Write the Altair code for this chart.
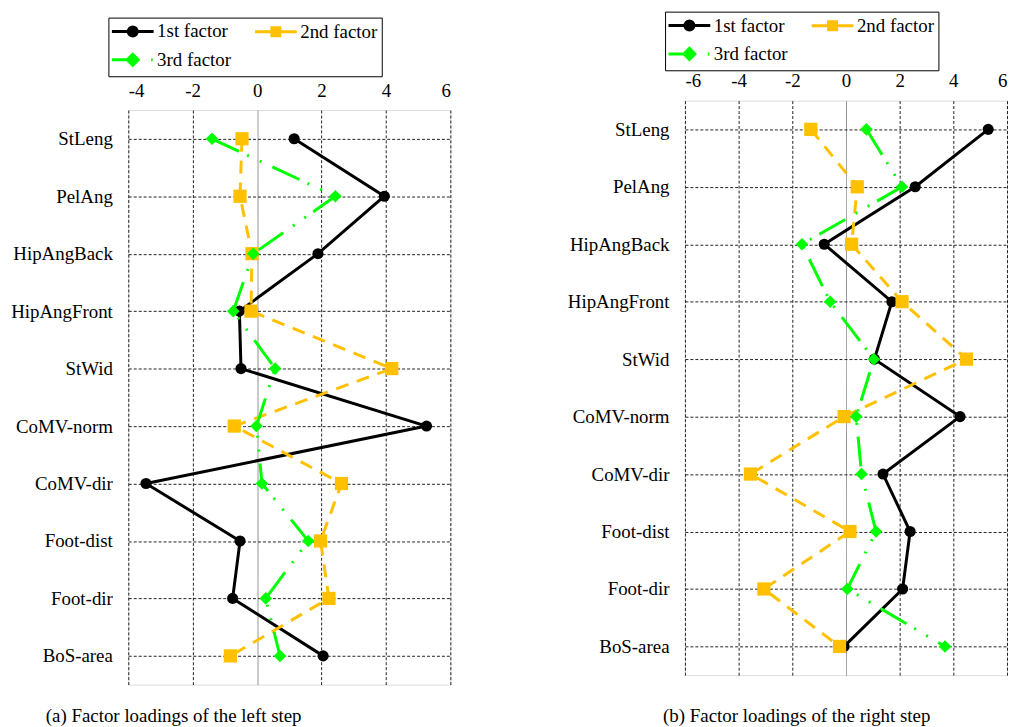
import altair as alt
import pandas as pd

FONT = "Liberation Serif"

categories = ["StLeng", "PelAng", "HipAngBack", "HipAngFront", "StWid",
              "CoMV-norm", "CoMV-dir", "Foot-dist", "Foot-dir", "BoS-area"]
series_names = ["1st factor", "2nd factor", "3rd factor"]
colors = ["#000000", "#FFC000", "#00FF00"]

left_f1 = [1.15, 3.95, 1.89, -0.55, -0.50, 5.26, -3.45, -0.53, -0.76, 2.05]
left_f2 = [-0.47, -0.53, -0.16, -0.19, 4.18, -0.71, 2.62, 1.97, 2.23, -0.83]
left_f3 = [-1.40, 2.43, -0.12, -0.74, 0.56, -0.02, 0.15, 1.59, 0.27, 0.71]

right_f1 = [5.30, 2.58, -0.81, 1.71, 1.06, 4.25, 1.38, 2.39, 2.11, -0.07]
right_f2 = [-1.31, 0.42, 0.21, 2.09, 4.49, -0.07, -3.56, 0.15, -3.06, -0.24]
right_f3 = [0.76, 2.09, -1.64, -0.59, 1.04, 0.38, 0.58, 1.12, 0.05, 3.69]

left_ticks = [-4, -2, 0, 2, 4, 6]
right_ticks = [-6, -4, -2, 0, 2, 4, 6]

captions = ["(a) Factor loadings of the left step", "(b) Factor loadings of the right step"]

dashes = [None, [13, 9], [30, 9, 2, 12, 2, 12]]
shapes = ["circle", "square", "diamond"]
sizes = [125, 177, 161]

legend_paths = [
    "M-1.25,0L4,0M1.94,0A0.56,0.56,0,1,1,0.81,0A0.56,0.56,0,1,1,1.94,0Z",
    "M-1.25,0L4,0M0.875,-0.5L1.875,-0.5L1.875,0.5L0.875,0.5Z",
    "M-1.25,0L1.375,0M1.375,-0.69L2.06,0L1.375,0.69L0.69,0ZM3.69,0L3.875,0",
]


def make_df(vals_list):
    rows = []
    for name, vals in zip(series_names, vals_list):
        for i, (cat, v) in enumerate(zip(categories, vals)):
            rows.append({"factor": name, "variable": cat, "order": i, "loading": v})
    return pd.DataFrame(rows)


def panel(vals_list, ticks, caption, legend_y, caption_dx, caption_offset):
    df = make_df(vals_list)
    base = alt.Chart(df)
    x = alt.X(
        "loading:Q",
        scale=alt.Scale(domain=[ticks[0], ticks[-1]], nice=False, zero=False),
        axis=alt.Axis(
            orient="top", values=ticks, title=None, ticks=False, domain=False,
            labelExpr="datum.value + ''", labelFont=FONT, labelFontSize=19,
            labelColor="black", labelPadding=10, grid=True,
            gridDash={"condition": {"test": "datum.value === 0", "value": [1, 0]}, "value": [3, 2]},
            gridColor={"condition": {"test": "datum.value === 0", "value": "#8c8c8c"}, "value": "#222222"},
            gridWidth=1,
        ),
    )
    y = alt.Y(
        "variable:N", sort=categories, scale=alt.Scale(padding=0.5),
        axis=alt.Axis(title=None, ticks=False, domain=False, grid=True, gridDash=[3, 2],
                      gridColor="#222222", labelFont=FONT, labelFontSize=19, labelColor="black",
                      labelPadding=16),
    )
    layers = []
    for k, name in enumerate(series_names):
        sub = base.transform_filter(alt.datum.factor == name)
        line_kwargs = {"strokeWidth": 3, "color": colors[k]}
        if dashes[k] is not None:
            line_kwargs["strokeDash"] = dashes[k]
        layers.append(sub.mark_line(**line_kwargs).encode(
            x=x, y=y, order=alt.Order("order:Q")))
        layers.append(sub.mark_point(shape=shapes[k], size=sizes[k], filled=True, opacity=1,
                                     color=colors[k]).encode(x=x, y=y))

    legend = alt.Legend(
        title=None, orient="none", legendX=-20, legendY=legend_y, columns=2,
        direction="horizontal", labelFont=FONT, labelFontSize=19, labelColor="black",
        labelLimit=0, strokeColor="black", fillColor="white",
        padding=4, rowPadding=5, columnPadding=17, symbolSize=256, labelOffset=26,
        symbolStrokeWidth=3, symbolOpacity=1,
    )
    legend_layer = base.transform_filter("false").mark_point(
        filled=True, strokeWidth=3, opacity=1).encode(
        x=x, y=y,
        fill=alt.Fill("factor:N", scale=alt.Scale(domain=series_names, range=colors), legend=legend),
        stroke=alt.Stroke("factor:N", scale=alt.Scale(domain=series_names, range=colors), legend=legend),
        shape=alt.Shape("factor:N", scale=alt.Scale(domain=series_names, range=legend_paths), legend=legend),
    )
    return alt.layer(*layers, legend_layer).properties(
        width=324, height=578,
        title=alt.TitleParams(caption, orient="bottom", anchor="start", frame="group",
                              dx=caption_dx, offset=caption_offset, font=FONT, fontSize=19,
                              fontWeight="normal", color="black"),
    )


# the left legend is placed relative to its column group, which starts 9.5px above the plot
left = panel([left_f1, left_f2, left_f3], left_ticks, captions[0], -83.5, -83, 23)
right = panel([right_f1, right_f2, right_f3], right_ticks, captions[1], -89.5, -22, 32)

# empty strip that lowers the left panel relative to the right one
spacer = alt.Chart(alt.Data(values=[{"a": 1}])).mark_point(opacity=0, size=0).properties(
    width=1, height=1, view=alt.ViewBackground(stroke="transparent"))
left_col = alt.vconcat(spacer, left, spacing=8.5, bounds="flush")

chart = alt.hconcat(left_col, right, spacing=116).resolve_scale(
    fill="independent", stroke="independent", shape="independent"
).resolve_legend(
    fill="independent", stroke="independent", shape="independent"
).properties(
    padding={"left": 2, "top": 0, "right": 0, "bottom": 0}
).configure_view(stroke="black", strokeWidth=1.5).configure_legend(
    strokeWidth=1.5
).configure(background="white", font=FONT)

chart.save("out.html", embed_options={"renderer": "svg", "actions": False})
